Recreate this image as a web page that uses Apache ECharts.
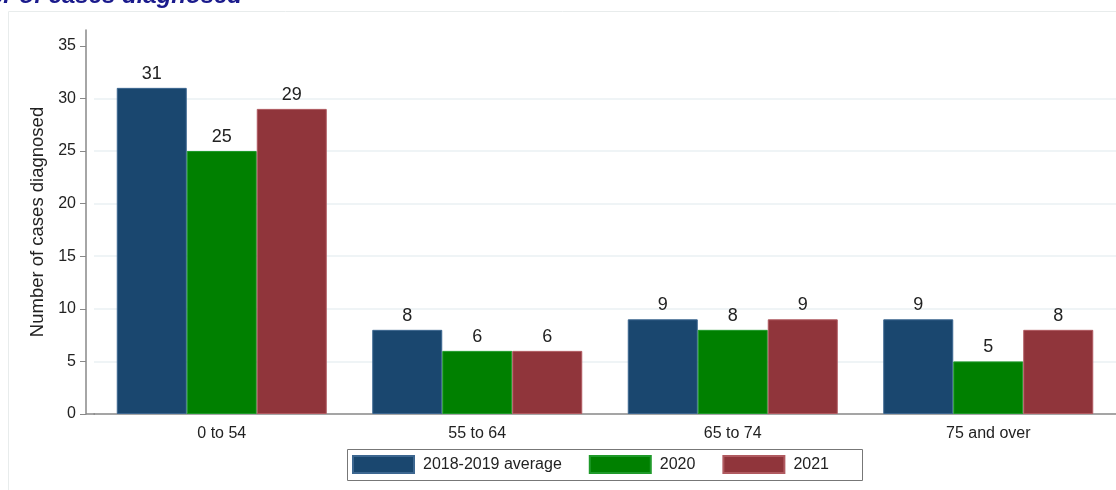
<!DOCTYPE html>
<html>
<head>
<meta charset="utf-8">
<script src="https://cdn.jsdelivr.net/npm/echarts@6/dist/echarts.min.js"></script>
<style>
  html, body { margin: 0; padding: 0; background: #fff; }
  #main { width: 1116px; height: 490px; }
</style>
</head>
<body>
<div id="main"></div>
<script>
var ageGroups = ["0 to 54", "55 to 64", "65 to 74", "75 and over"];
var avg2018_2019 = [31, 8, 9, 9];
var cases2020 = [25, 6, 8, 5];
var cases2021 = [29, 6, 9, 8];
var yTicks = [0, 5, 10, 15, 20, 25, 30, 35];
var gridTicks = [5, 10, 15, 20, 25, 30];

var font = "'Liberation Sans', Arial, sans-serif";

function barSeries(name, data, color, border) {
  return {
    name: name,
    type: "bar",
    data: data,
    barWidth: 70,
    barGap: "0%",
    itemStyle: { color: color, borderColor: border, borderWidth: 1 },
    label: {
      show: true,
      position: "top",
      distance: 5,
      color: "#222",
      fontSize: 18,
      fontFamily: font
    }
  };
}

var myChart = echarts.init(document.getElementById("main"));
var blue = barSeries("2018-2019 average", avg2018_2019, "#1a476f", "#3d6790");
blue.markLine = {
  silent: true,
  symbol: "none",
  label: { show: false },
  lineStyle: { color: "#eaf1f3", width: 1.5, type: "solid" },
  z: 0,
  data: gridTicks.map(function (v) { return { yAxis: v }; })
};

var option = {
  animation: false,
  title: {
    text: "Number of cases diagnosed",
    left: 237,
    top: -21,
    textAlign: "right",
    textStyle: {
      color: "#1a1a8c",
      fontSize: 24,
      fontWeight: "bold",
      fontStyle: "italic",
      fontFamily: font
    }
  },
  graphic: [
    {
      type: "rect",
      shape: { x: 8.5, y: 11.5, width: 1200, height: 600 },
      style: { fill: "none", stroke: "#e8ecec", lineWidth: 1 },
      z: -10
    },
    {
      type: "rect",
      shape: { x: 347.5, y: 449.5, width: 515, height: 31 },
      style: { fill: "none", stroke: "#777", lineWidth: 1 }
    },
    {
      type: "line",
      shape: { x1: 86, y1: 414, x2: 95, y2: 414 },
      style: { stroke: "#888", lineWidth: 1.5 }
    }
  ],
  legend: {
    left: 352,
    top: 455,
    padding: 0,
    itemWidth: 61,
    itemHeight: 17,
    itemGap: 27,
    icon: "rect",
    selectedMode: false,
    textStyle: {
      color: "#222",
      fontSize: 16,
      fontFamily: font,
      padding: [0, 0, 0, 4]
    },
    data: ["2018-2019 average", "2020", "2021"]
  },
  grid: {
    left: 94,
    right: -2,
    top: 30,
    bottom: 76,
    containLabel: false
  },
  xAxis: {
    type: "category",
    data: ageGroups,
    axisLine: { lineStyle: { color: "#888", width: 1.5 } },
    axisTick: { show: false },
    axisLabel: { color: "#222", fontSize: 16, fontFamily: font, margin: 12 }
  },
  yAxis: {
    type: "value",
    min: 0,
    max: 36.5,
    offset: 8,
    name: "Number of cases diagnosed",
    nameLocation: "middle",
    nameGap: 39,
    nameTextStyle: { color: "#222", fontSize: 18.5, fontFamily: font },
    axisLine: { show: true, lineStyle: { color: "#888", width: 1.5 } },
    axisTick: { show: true, length: 6, customValues: yTicks, lineStyle: { color: "#888" } },
    axisLabel: { color: "#222", fontSize: 16, fontFamily: font, margin: 10, customValues: yTicks },
    splitLine: { show: false }
  },
  series: [
    blue,
    barSeries("2020", cases2020, "#008000", "#1f9a2a"),
    barSeries("2021", cases2021, "#90353b", "#b05a60")
  ]
};
myChart.setOption(option);
</script>
</body>
</html>
